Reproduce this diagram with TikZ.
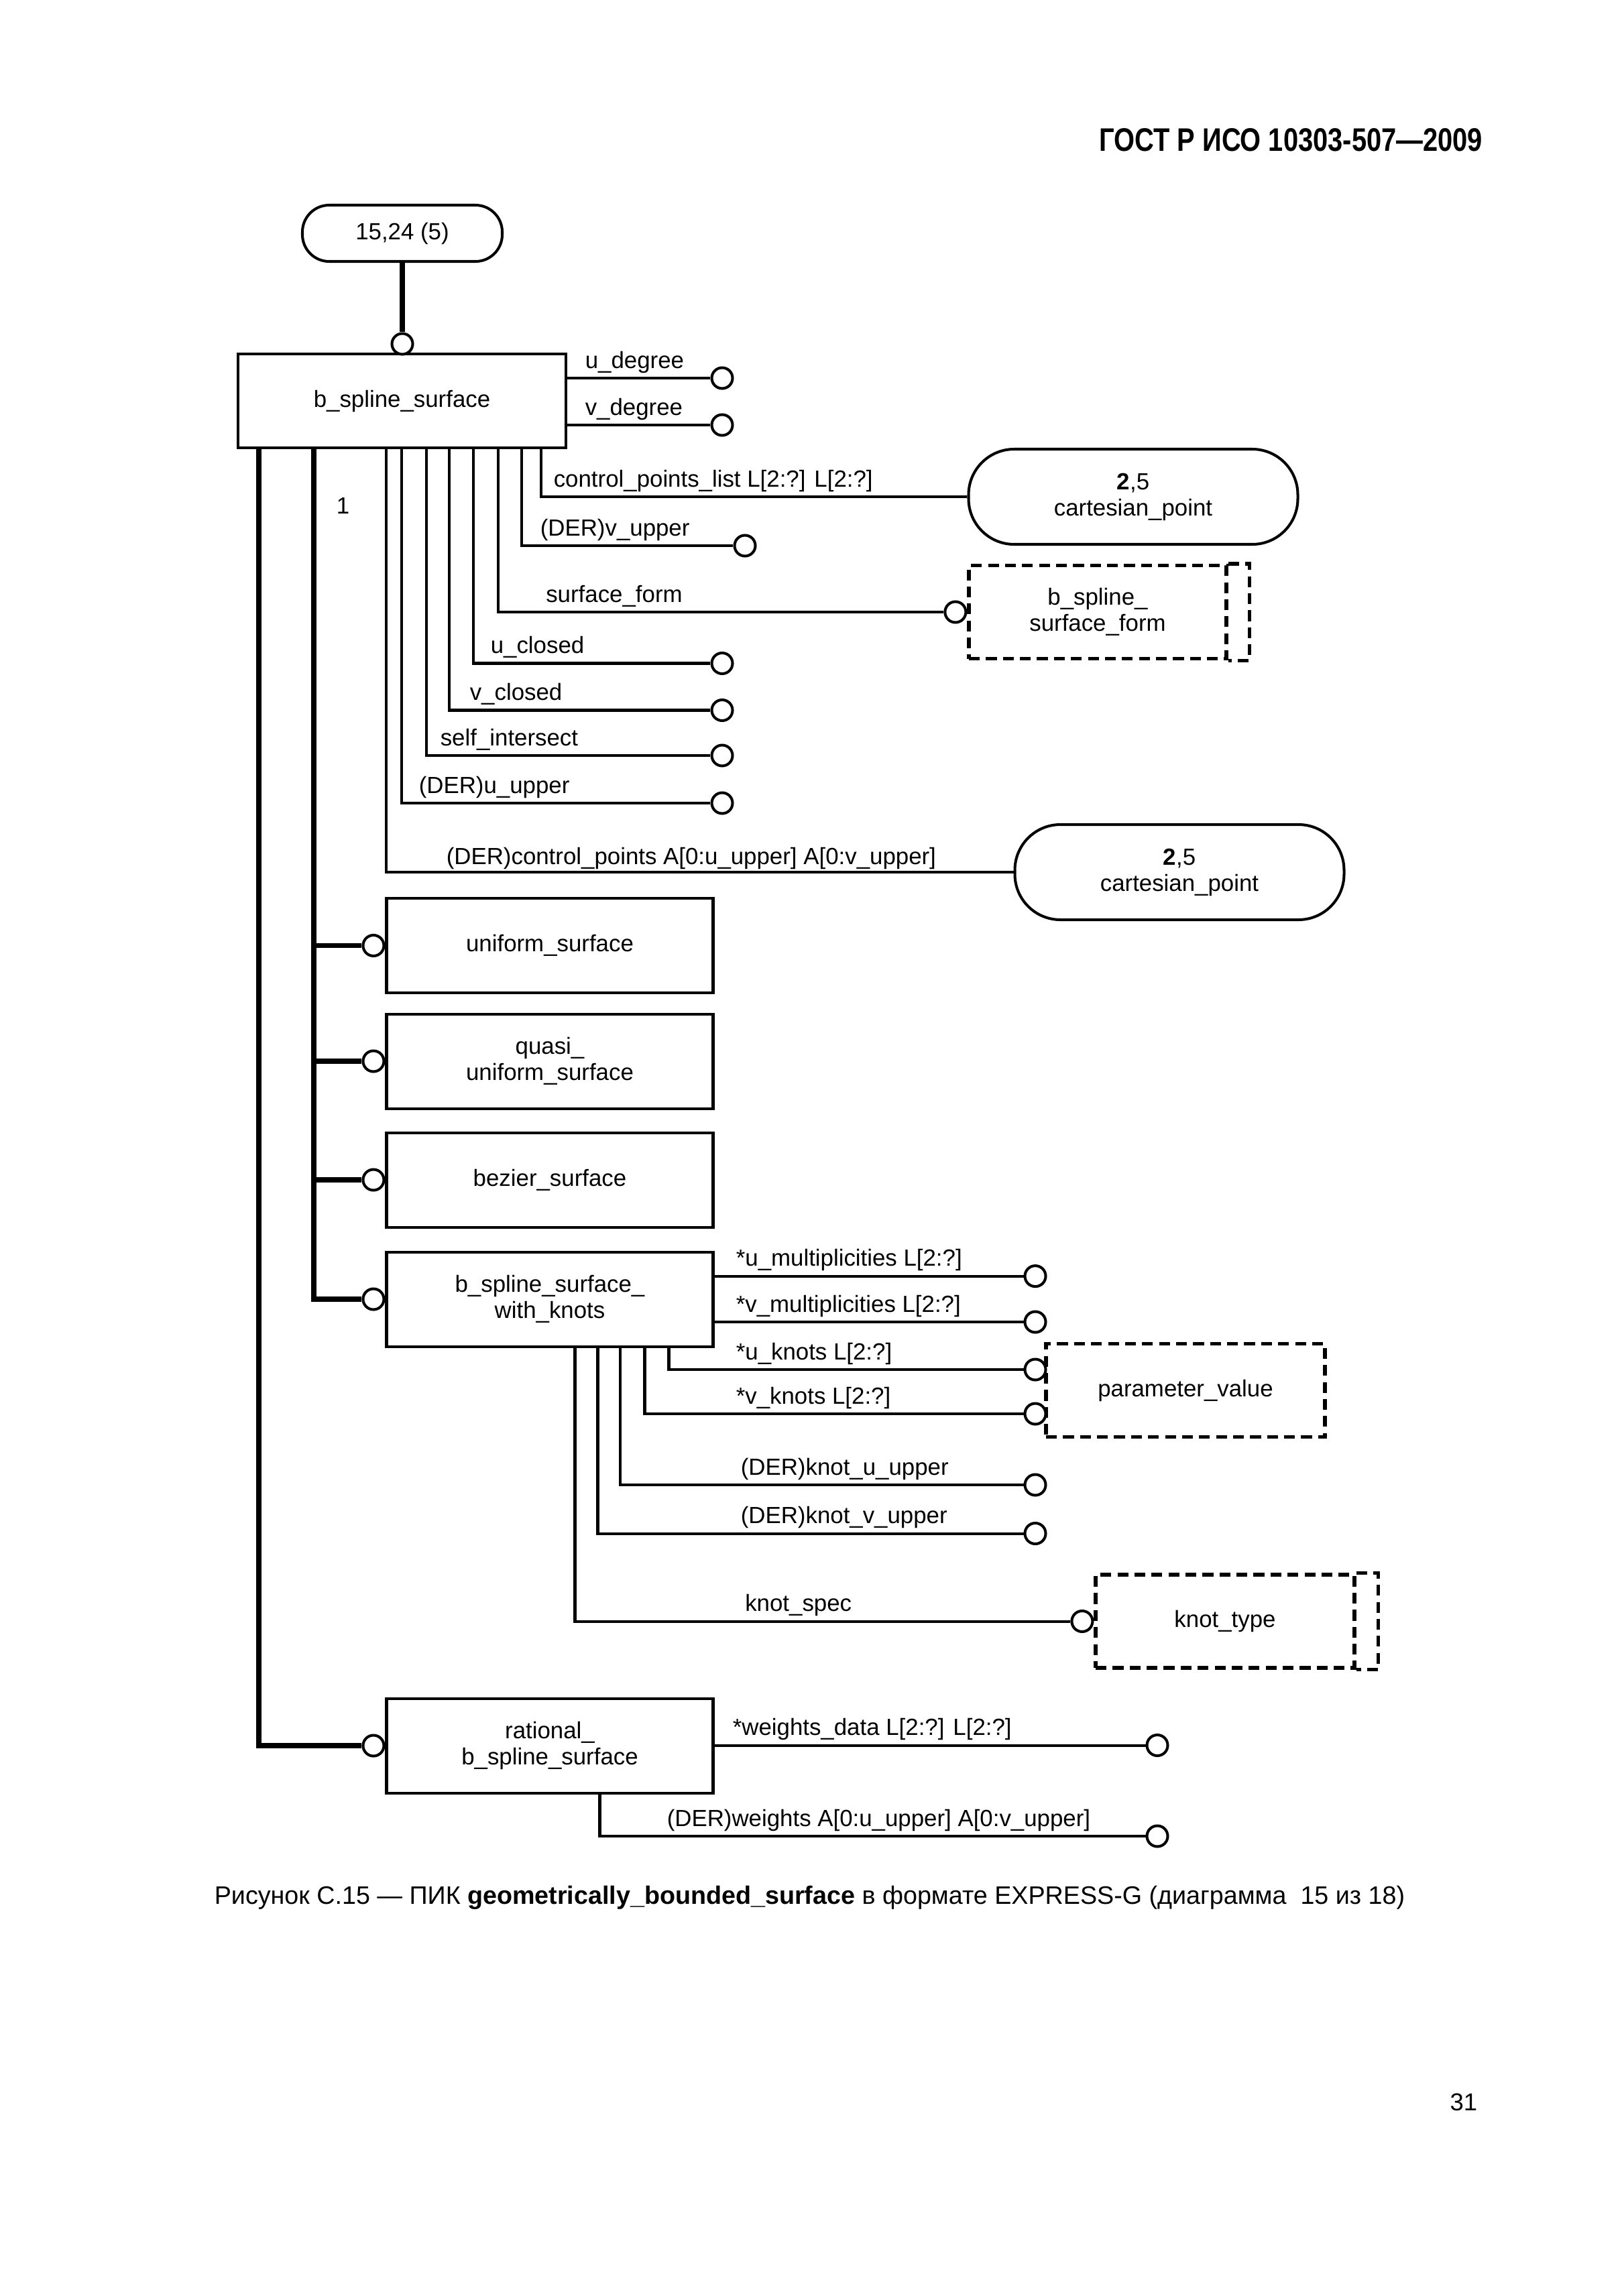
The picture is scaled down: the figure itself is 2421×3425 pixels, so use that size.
\documentclass[tikz,border=0pt]{standalone}
\usepackage{fontspec}
\setmainfont{Liberation Sans}
\newfontfamily\hdrfont[FakeStretch=0.82]{Liberation Sans}
\usepackage{tikz}
\usetikzlibrary{positioning}
\usetikzlibrary{calc}
\newcommand{\pxu}{0.086741mm}
\newcommand{\dfont}{\fontsize{8.6}{9.6}\selectfont}
\tikzset{
  exgnode/.style = {align=center, inner sep=0pt, text centered,
    font=\dfont},
  exg_e/.style = {exgnode, rectangle, draw=black, line width=0.35mm,
    minimum width=487*\pxu, minimum height=141*\pxu},% entite
  exg_t/.style = {exgnode, rectangle, draw=black, line width=0.45mm,
    dash pattern=on 1.4mm off 0.8mm, minimum height=139*\pxu},% type
  exg_tl/.style = {line width=0.45mm, dash pattern=on 1.4mm off 0.8mm},% bord double du type
  exg_p/.style = {exgnode, rectangle, draw=black, line width=0.35mm},% renvoi de page
  exg_o/.style = {circle, draw=black, fill=white, line width=0.35mm,
    inner sep=0pt, minimum size=31*\pxu},% cercle
  exg_l/.style = {exgnode, anchor=base west},% nom d'attribut
  rel/.style = {line width=0.35mm},
  sub/.style = {line width=0.65mm}
}
\begin{document}
\begin{tikzpicture}[x=\pxu, y=-\pxu]
\path[use as bounding box, fill=white] (0,0) rectangle (2421,3425);

\node[anchor=base east, inner sep=0pt] (hdr) at (2212,225)
  {\hdrfont\bfseries\fontsize{12}{14}\selectfont ГОСТ Р ИСО 10303-507—2009};

% entites
\node [exg_p, rounded corners=40*\pxu, minimum width=298*\pxu,
  minimum height=84*\pxu] (p15) at (600,348) {15,24 (5)};
\node [exg_e, minimum width=489*\pxu, minimum height=140*\pxu] (bss) at (599.5,598)
  {b\_spline\_surface};
\node [exg_e] (us) at (820,1410.5) {uniform\_surface};
\node [exg_e] (qus) at (820,1583) {quasi\_\\uniform\_surface};
\node [exg_e] (bz) at (820,1760) {bezier\_surface};
\node [exg_e] (wk) at (820,1938) {b\_spline\_surface\_\\with\_knots};
\node [exg_e] (rb) at (820,2604) {rational\_\\b\_spline\_surface};

% types et renvois
\node [exg_p, rounded corners=68*\pxu, minimum width=491*\pxu,
  minimum height=142*\pxu] (cp1) at (1690,741) {\textbf{2},5\\cartesian\_point};
\node [exg_p, rounded corners=68*\pxu, minimum width=491*\pxu,
  minimum height=142*\pxu] (cp2) at (1759,1301) {\textbf{2},5\\cartesian\_point};
\node [exg_t, minimum width=384*\pxu] (sf) at (1637,913) {b\_spline\_\\surface\_form};
\node [exg_t, minimum width=416*\pxu] (pv) at (1768,2074) {parameter\_value};
\node [exg_t, minimum width=386*\pxu] (kt) at (1827,2418.5) {knot\_type};
\draw [exg_tl] (sf.north east) -| ([xshift=32*\pxu]sf.south east) -- (sf.south east);
\draw [exg_tl] (kt.north east) -| ([xshift=33*\pxu]kt.south east) -- (kt.south east);

% cercles
\node [exg_o] (o_top) at (600,513) {};
\node [exg_o] (o_ud) at (1077,564) {};
\node [exg_o] (o_vd) at (1077,634) {};
\node [exg_o] (o_vu) at (1111,814) {};
\node [exg_o, anchor=east] (o_sf) at (sf.west) {};
\node [exg_o] (o_uc) at (1077,989.5) {};
\node [exg_o] (o_vc) at (1077,1059.5) {};
\node [exg_o] (o_si) at (1077,1127) {};
\node [exg_o] (o_uu) at (1077,1198) {};
\foreach \s in {us,qus,bz,wk,rb}
  \node [exg_o, anchor=east] (o_\s) at (\s.west) {};
\node [exg_o] (o_um) at (1544,1903.6) {};
\node [exg_o] (o_vm) at (1544,1972) {};
\node [exg_o] (o_uk) at (1544,2043) {};
\node [exg_o] (o_vk) at (1544,2109) {};
\node [exg_o] (o_ku) at (1544,2215) {};
\node [exg_o] (o_kv) at (1544,2287.5) {};
\node [exg_o, anchor=east] (o_ks) at (kt.west) {};
\node [exg_o] (o_wd) at (1726,2603.5) {};
\node [exg_o] (o_dw) at (1726,2739) {};

% liens
\draw [sub] (p15) -- (o_top);
\draw [rel] (bss.east |- o_ud) -- (o_ud);
\draw [rel] (bss.east |- o_vd) -- (o_vd);
\draw [rel] ([xshift=454*\pxu]bss.south west) |- (cp1);
\draw [rel] ([xshift=425*\pxu]bss.south west) |- (o_vu);
\draw [rel] ([xshift=390*\pxu]bss.south west) |- (o_sf);
\draw [rel] ([xshift=353*\pxu]bss.south west) |- (o_uc);
\draw [rel] ([xshift=317*\pxu]bss.south west) |- (o_vc);
\draw [rel] ([xshift=283*\pxu]bss.south west) |- (o_si);
\draw [rel] ([xshift=246*\pxu]bss.south west) |- (o_uu);
\draw [rel] ([xshift=223*\pxu]bss.south west) |- (cp2);
\coordinate (tr1) at ([xshift=115*\pxu]bss.south west);
\draw [sub] (tr1) |- (o_wk);
\foreach \s in {us,qus,bz}
  \draw [sub] (tr1 |- o_\s) -- (o_\s);
\draw [sub] ([xshift=33*\pxu]bss.south west) |- (o_rb);
\draw [rel] (wk.east |- o_um) -- (o_um);
\draw [rel] (wk.east |- o_vm) -- (o_vm);
\draw [rel] ([xshift=423*\pxu]wk.south west) |- (o_uk);
\draw [rel] ([xshift=387*\pxu]wk.south west) |- (o_vk);
\draw [rel] ([xshift=350.5*\pxu]wk.south west) |- (o_ku);
\draw [rel] ([xshift=317*\pxu]wk.south west) |- (o_kv);
\draw [rel] ([xshift=283*\pxu]wk.south west) |- (o_ks);
\draw [rel] (rb.east |- o_wd) -- (o_wd);
\draw [rel] ([xshift=320*\pxu]rb.south west) |- (o_dw);

% noms des attributs
\node [exg_l] (l_ud) at (872,549) {u\_degree};
\node [exg_l] (l_vd) at (872,619) {v\_degree};
\node [exg_l] (l_cpl) at (825,726) {control\_points\_list L[2:?] L[2:?]};
\node [exg_l] (l_vu) at (805,799) {(DER)v\_upper};
\node [exg_l] (l_sf) at (813.5,898) {surface\_form};
\node [exg_l] (l_uc) at (731,974.5) {u\_closed};
\node [exg_l] (l_vc) at (700,1044.5) {v\_closed};
\node [exg_l] (l_si) at (656,1112) {self\_intersect};
\node [exg_l] (l_uu) at (624,1183) {(DER)u\_upper};
\node [exg_l] (l_cp) at (665,1289) {(DER)control\_points A[0:u\_upper] A[0:v\_upper]};
\node [exg_l] (l_one) at (501,766) {1};
\node [exg_l] (l_um) at (1097,1888.6) {*u\_multiplicities L[2:?]};
\node [exg_l] (l_vm) at (1097,1957) {*v\_multiplicities L[2:?]};
\node [exg_l] (l_uk) at (1097,2028) {*u\_knots L[2:?]};
\node [exg_l] (l_vk) at (1097,2094) {*v\_knots L[2:?]};
\node [exg_l] (l_ku) at (1104,2200) {(DER)knot\_u\_upper};
\node [exg_l] (l_kv) at (1104,2272.5) {(DER)knot\_v\_upper};
\node [exg_l] (l_ks) at (1110.5,2403) {knot\_spec};
\node [exg_l] (l_wd) at (1092,2588.5) {*weights\_data L[2:?] L[2:?]};
\node [exg_l] (l_dw) at (994,2724) {(DER)weights A[0:u\_upper] A[0:v\_upper]};

\node [anchor=base west, inner sep=0pt] (cap) at (319,2840)
  {\fontsize{9.3}{11}\selectfont Рисунок С.15 — ПИК \textbf{geometrically\_bounded\_surface}
   в формате EXPRESS-G (диаграмма\ \ 15 из 18)};
\node [anchor=base east, inner sep=0pt] (pg) at (2204,3148)
  {\fontsize{9}{11}\selectfont 31};
\end{tikzpicture}
\end{document}
